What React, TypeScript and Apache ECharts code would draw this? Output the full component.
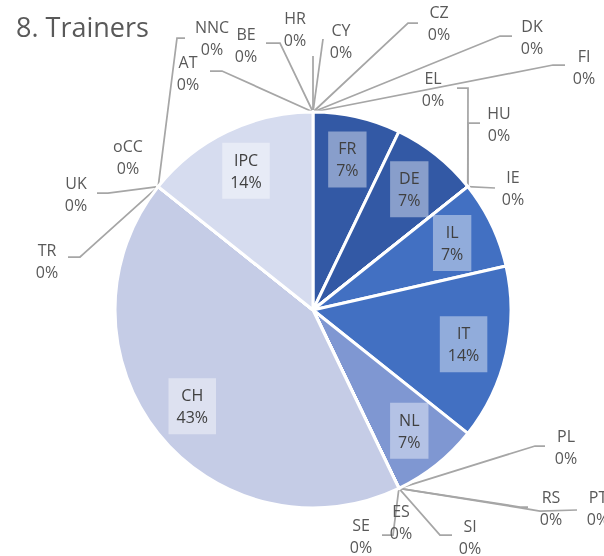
import React, { useEffect, useRef } from 'react';
import * as echarts from 'echarts';

// ---- data ----
const chartTitle = '8. Trainers';
const countries = ['AT', 'BE', 'HR', 'CY', 'CZ', 'DK', 'FI', 'FR', 'DE', 'EL', 'HU', 'IE', 'IL', 'IT', 'NL', 'PL', 'PT', 'RS', 'SI', 'ES', 'SE', 'CH', 'TR', 'UK', 'NNC', 'oCC', 'IPC'];
const trainers = [0, 0, 0, 0, 0, 0, 0, 1, 1, 0, 0, 0, 1, 2, 1, 0, 0, 0, 0, 0, 0, 6, 0, 0, 0, 0, 2];

// ---- style / layout ----
const CENTER = [313, 310];
const RADIUS = 198;
const FONT = '"Open Sans", "Noto Sans", sans-serif';
const TEXT = '#595959';
const LINE = '#a6a6a6';

const sliceColors: Record<string, string> = {
  FR: '#3359a5', DE: '#3359a5', IL: '#4270c2', IT: '#4270c2', NL: '#7f97d2', CH: '#c5cce6', IPC: '#d6dcef',
};

// placement of the labels of the empty slices (label centre, leader line elbows)
const outsideLabels: Record<string, { x: number; y: number; line?: number[][] }> = {
  AT: { x: 188, y: 73, line: [[222, 71], [210, 71]] },
  BE: { x: 246, y: 45, line: [[280, 43], [266, 43]] },
  HR: { x: 295, y: 29, line: [[313, 56]] },
  CY: { x: 341, y: 41, line: [[323, 39]] },
  CZ: { x: 439, y: 23, line: [[408, 23], [418, 23]] },
  DK: { x: 532, y: 37, line: [[500, 36], [512, 36]] },
  FI: { x: 584, y: 67, line: [[553, 65], [565, 65]] },
  EL: { x: 433, y: 89, line: [[468, 88], [457, 88]] },
  HU: { x: 499, y: 124, line: [[468, 123], [480, 123]] },
  IE: { x: 513, y: 188, line: [[495, 188]] },
  PL: { x: 566, y: 447, line: [[535, 446], [545, 446]] },
  PT: { x: 598, y: 508, line: [[540, 511], [577, 510]] },
  RS: { x: 551, y: 508, line: [[520, 507], [528, 507]] },
  SI: { x: 470, y: 537, line: [[440, 535], [452, 535]] },
  ES: { x: 401, y: 522 },
  SE: { x: 361, y: 536, line: [[393, 535], [382, 535]] },
  TR: { x: 47, y: 261, line: [[80, 257], [68, 257]] },
  UK: { x: 76, y: 194, line: [[108, 193], [97, 193]] },
  NNC: { x: 212, y: 38, line: [[177, 38], [185, 38]] },
  oCC: { x: 128, y: 157 },
};

export default function App() {
  const ref = useRef<HTMLDivElement>(null);
  useEffect(() => {
    const chart = echarts.init(ref.current!, null, { renderer: 'svg' });
    const total = trainers.reduce((a, b) => a + b, 0);
    const startAng: number[] = [];
    let acc = 0;
    trainers.forEach((v) => {
      startAng.push((acc / total) * 2 * Math.PI);
      acc += v;
    });
    const polar = (ang: number, r: number) => [CENTER[0] + r * Math.sin(ang), CENTER[1] - r * Math.cos(ang)];

    const data = countries.map((name, i) => {
      const v = trainers[i];
      if (v > 0) {
        return {
          name,
          value: v,
          itemStyle: { color: sliceColors[name] },
          label: {
            position: 'inside',
            color: '#404040',
            fontSize: 16,
            lineHeight: 22,
            backgroundColor: 'rgba(255,255,255,0.42)',
            padding: [6, 8, 6, 8],
          },
          labelLine: { show: false },
        };
      }
      return {
        name,
        value: v,
        itemStyle: { color: '#ffffff' },
        labelLine: { show: !!outsideLabels[name]?.line },
      };
    });

    chart.setOption({
      animation: false,
      title: {
        text: chartTitle,
        left: 11,
        top: 8,
        textStyle: { fontFamily: FONT, fontSize: 27, fontWeight: 'normal', color: TEXT },
      },
      series: [
        {
          type: 'pie',
          center: CENTER,
          radius: RADIUS,
          startAngle: 90,
          clockwise: true,
          avoidLabelOverlap: false,
          emphasis: { disabled: true },
          itemStyle: { borderColor: '#ffffff', borderWidth: 3 },
          label: {
            show: true,
            position: 'outside',
            formatter: (p: any) => `${p.name}\n${Math.round(p.percent)}%`,
            fontFamily: FONT,
            fontSize: 16,
            lineHeight: 22,
            color: TEXT,
          },
          labelLine: { show: true, length: 10, length2: 10, lineStyle: { color: LINE, width: 1.75 } },
          labelLayout: (p: any) => {
            const i = p.dataIndex;
            const name = countries[i];
            const a0 = startAng[i];
            const a1 = a0 + (trainers[i] / total) * 2 * Math.PI;
            if (trainers[i] > 0) {
              const [x, y] = polar((a0 + a1) / 2, RADIUS * 0.78);
              return { x, y, align: 'center', verticalAlign: 'middle' };
            }
            const o = outsideLabels[name];
            const j = polar(a0, RADIUS);
            const res: any = { x: o.x, y: o.y, align: 'center', verticalAlign: 'middle' };
            if (o.line) res.labelLinePoints = [j, ...o.line];
            return res;
          },
          data,
        },
      ],
    });
    return () => chart.dispose();
  }, []);
  return <div ref={ref} style={{ position: 'fixed', left: 0, top: 0, width: 604, height: 556 }} />;
}
